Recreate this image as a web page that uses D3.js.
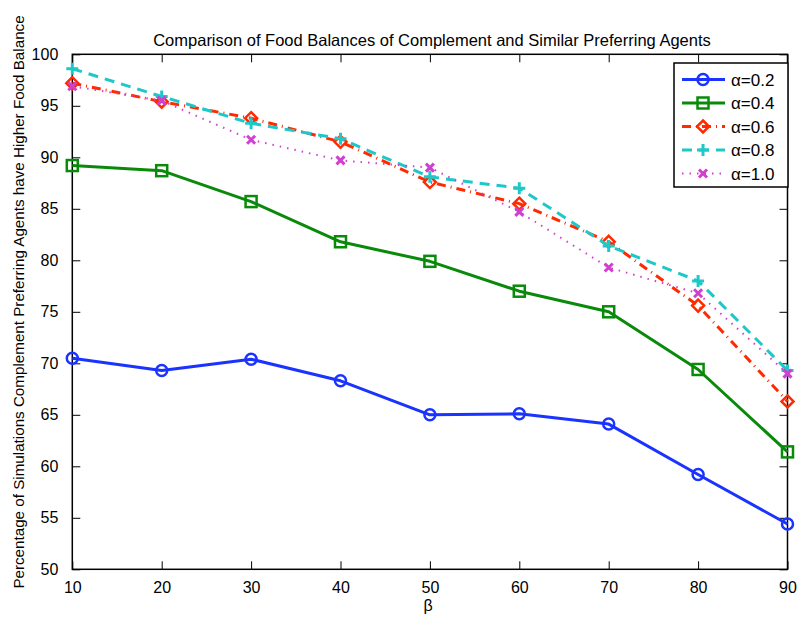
<!DOCTYPE html>
<html><head><meta charset="utf-8">
<script src="https://cdn.jsdelivr.net/npm/d3@7"></script>
<style>body{margin:0;background:#fff;} text{font-family:"Liberation Sans",Arial,sans-serif;}</style>
</head><body><svg id="c" width="799" height="620"></svg>
<script>
const betas = [10,20,30,40,50,60,70,80,90];
const alpha02 = [70.5,69.3,70.4,68.3,65.0,65.1,64.1,59.2,54.4];
const alpha04 = [89.2,88.7,85.7,81.8,79.9,77.0,75.0,69.4,61.4];
const alpha06 = [97.2,95.4,93.8,91.5,87.6,85.5,81.8,75.6,66.3];
const alpha08 = [98.6,95.9,93.3,91.8,88.1,87.0,81.4,78.0,69.3];
const alpha10 = [96.9,95.5,91.7,89.7,89.0,84.7,79.3,76.8,69.0];
const seriesNames = ["\u03b1=0.2","\u03b1=0.4","\u03b1=0.6","\u03b1=0.8","\u03b1=1.0"];
const yTicks = [50,55,60,65,70,75,80,85,90,95,100];

const styles = [
  {color:"#1a33ff", dash:null, width:3, marker:"circle"},
  {color:"#0a8a0a", dash:null, width:3, marker:"square"},
  {color:"#ff2a00", dash:"9,5,1,5", width:3, marker:"diamond"},
  {color:"#1ec8c8", dash:"10,7", width:3, marker:"plus"},
  {color:"#d040d0", dash:"1.5,6", width:2, marker:"x"}
];
const allSeries = [alpha02,alpha04,alpha06,alpha08,alpha10];

const svg = d3.select("#c");
const x = d3.scaleLinear().domain([10,90]).range([72.3,787.5]);
const y = d3.scaleLinear().domain([50,100]).range([569.3,54.3]);
const X0=x.range()[0], X1=x.range()[1], Y0=y.range()[0], Y1=y.range()[1];

const g = svg.append("g");
g.append("rect").attr("x",X0).attr("y",Y1).attr("width",X1-X0).attr("height",Y0-Y1)
  .attr("fill","none").attr("stroke","#000").attr("stroke-width",1.5);

const tl = 8;
const xAxisB = d3.axisBottom(x).tickValues(betas).tickSize(-tl).tickPadding(12).tickFormat(d3.format("d"));
const xAxisT = d3.axisTop(x).tickValues(betas).tickSize(-tl).tickFormat("");
const yAxisL = d3.axisLeft(y).tickValues(yTicks).tickSize(-tl).tickPadding(14).tickFormat(d3.format("d"));
const yAxisR = d3.axisRight(y).tickValues(yTicks).tickSize(-tl).tickFormat("");
function styleAxis(sel){
  sel.select(".domain").remove();
  sel.selectAll(".tick line").attr("stroke","#000").attr("stroke-width",1);
  sel.selectAll(".tick text").attr("fill","#000").style("font-size","16px").style("font-family","'Liberation Sans',Arial,sans-serif");
}
g.append("g").attr("transform",`translate(0,${Y0})`).call(xAxisB).call(styleAxis);
g.append("g").attr("transform",`translate(0,${Y1})`).call(xAxisT).call(styleAxis);
g.append("g").attr("transform",`translate(${X0},0)`).call(yAxisL).call(styleAxis);
g.append("g").attr("transform",`translate(${X1},0)`).call(yAxisR).call(styleAxis);

svg.append("text").attr("x",432).attr("y",46).attr("text-anchor","middle")
  .style("font-size","16.5px").text("Comparison of Food Balances of Complement and Similar Preferring Agents");
svg.append("text").attr("x",428).attr("y",611).attr("text-anchor","middle")
  .style("font-size","16px").text("\u03b2");
svg.append("text").attr("transform",`translate(24,302) rotate(-90)`).attr("text-anchor","middle")
  .style("font-size","15.2px").text("Percentage of Simulations Complement Preferring Agents have Higher Food Balance");

function drawMarker(sel, type, color){
  const sw = 2.5;
  if(type==="circle") sel.append("circle").attr("r",5.5).attr("fill","none").attr("stroke",color).attr("stroke-width",sw);
  else if(type==="square") sel.append("rect").attr("x",-5.5).attr("y",-5.5).attr("width",11).attr("height",11).attr("fill","none").attr("stroke",color).attr("stroke-width",sw);
  else if(type==="diamond") sel.append("path").attr("d","M0,-6L6,0L0,6L-6,0Z").attr("fill","none").attr("stroke",color).attr("stroke-width",sw);
  else if(type==="plus") sel.append("path").attr("d","M-6,0H6M0,-6V6").attr("stroke",color).attr("stroke-width",3);
  else if(type==="x") sel.append("path").attr("d","M-4,-4L4,4M-4,4L4,-4").attr("stroke",color).attr("stroke-width",3);
}

const line = d3.line().x((d,i)=>x(betas[i])).y(d=>y(d));
allSeries.forEach((vals,k)=>{
  const s = styles[k];
  const gs = svg.append("g");
  gs.append("path").datum(vals).attr("d",line).attr("fill","none")
    .attr("stroke",s.color).attr("stroke-width",s.width)
    .attr("stroke-dasharray",s.dash).attr("stroke-linejoin","round");
  vals.forEach((v,i)=>{
    const m = gs.append("g").attr("transform",`translate(${x(betas[i])},${y(v)})`);
    drawMarker(m,s.marker,s.color);
  });
});

const lg = svg.append("g");
lg.append("rect").attr("x",674).attr("y",63).attr("width",114).attr("height",124)
  .attr("fill","#fff").attr("stroke","#000").attr("stroke-width",1.5);
seriesNames.forEach((name,k)=>{
  const s = styles[k];
  const yy = 79.5 + k*23.5;
  lg.append("line").attr("x1",682).attr("x2",725).attr("y1",yy).attr("y2",yy)
    .attr("stroke",s.color).attr("stroke-width",s.width).attr("stroke-dasharray",s.dash);
  drawMarker(lg.append("g").attr("transform",`translate(703,${yy})`), s.marker, s.color);
  lg.append("text").attr("x",731).attr("y",yy+6).style("font-size","17px").text(name);
});
</script></body></html>
